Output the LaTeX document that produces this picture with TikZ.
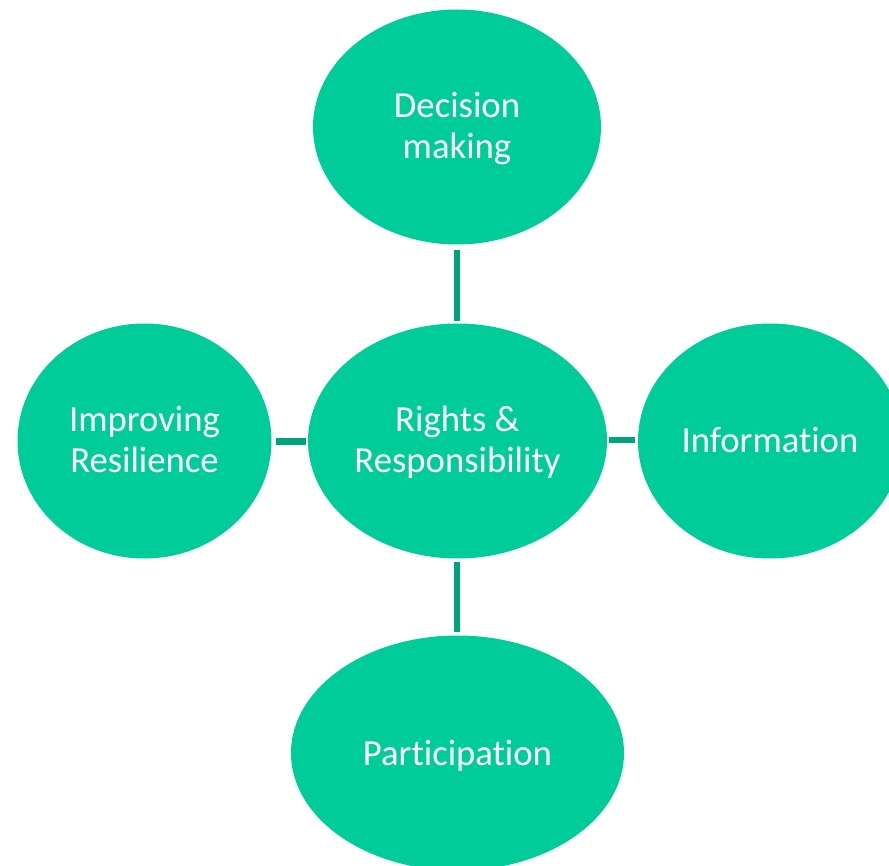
\documentclass[tikz,border=0pt]{standalone}
\usepackage{fontspec}
\setmainfont[RawFeature={-liga}]{Carlito}
\usetikzlibrary{shapes.geometric}
\definecolor{fillg}{HTML}{00CC99}
\definecolor{lineg}{HTML}{00A47A}
\newcommand{\bubbletext}[2]{\raisebox{#1}[0pt][0pt]{\begin{tabular}{@{}c@{}}#2\end{tabular}}}
\tikzset{
  bubble/.style={ellipse,fill=fillg,inner sep=0pt,text=white,align=center,font=\fontsize{36.7}{41}\selectfont},
  link/.style={draw=lineg,line width=6pt}
}
\begin{document}
\begin{tikzpicture}[x=1pt,y=-1pt]
\useasboundingbox (0,0) rectangle (889,866);
\fill[white] (0,0) rectangle (889,866);
\begin{scope}
\clip (0,0) rectangle (889,866);
\node[bubble,minimum width=288pt,minimum height=235pt] (dm) at (457,127) {\bubbletext{-9.5pt}{Decision\\making}};
\node[bubble,minimum width=299pt,minimum height=235pt] (rr) at (457.5,441) {\bubbletext{-9pt}{Rights \&\\Responsibility}};
\node[bubble,minimum width=254pt,minimum height=235pt] (ir) at (144.5,441) {\bubbletext{-9pt}{Improving\\Resilience}};
\node[bubble,minimum width=264pt,minimum height=235pt] (inf) at (770,441) {\bubbletext{-10pt}{Information}};
\node[bubble,minimum width=333pt,minimum height=235pt] (pa) at (457.5,753) {\bubbletext{-11pt}{Participation}};
\end{scope}
\coordinate (dmb) at (457,250);
\coordinate (rrt) at (457,321);
\coordinate (rrb) at (457,562);
\coordinate (pat) at (457,632);
\coordinate (irr) at (276,441.5);
\coordinate (rrl) at (306,441.5);
\coordinate (rrr) at (609,440);
\coordinate (infl) at (635,440);
\draw[link] (dmb) -- (rrt);
\draw[link] (rrb) -- (pat);
\draw[link] (irr) -- (rrl);
\draw[link] (rrr) -- (infl);
\end{tikzpicture}
\end{document}
